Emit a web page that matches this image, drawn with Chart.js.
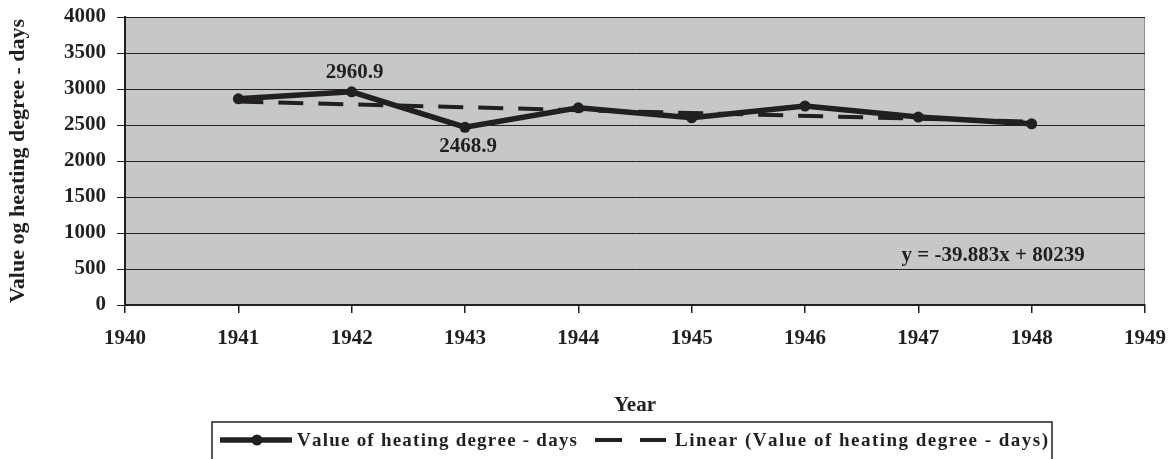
<!DOCTYPE html>
<html><head><meta charset="utf-8">
<script src="https://cdn.jsdelivr.net/npm/chart.js@4"></script>
<style>html,body{margin:0;padding:0;background:#fff;overflow:hidden}#wrap{width:1172px;height:459px;position:relative}</style>
</head><body><div id="wrap"><canvas id="c" width="1172" height="459"></canvas></div>
<script>
// ---- data ----
const years = [1941, 1942, 1943, 1944, 1945, 1946, 1947, 1948];
const heatingDegreeDays = [2864, 2960.9, 2468.9, 2739, 2600, 2763, 2610, 2517];
const trendYears = [1941, 1948];
const trendValues = [2826, 2547];
const labeledIndexes = [1, 2];
const labelSides = ['above', 'below'];
const seriesLabel = 'Value of heating degree - days';
const trendLabel = 'Linear (Value of heating degree - days)';
const equationText = 'y = -39.883x + 80239';
const xTitle = 'Year';
const yTitle = 'Value og heating degree - days';
const xMin = 1940, xMax = 1949, xStep = 1;
const yMin = 0, yMax = 4000, yStep = 500;

// ---- style ----
const INK = '#231f20';
const FAM = "'Liberation Serif', 'Times New Roman', serif";

const plotBg = {
  id: 'plotBg',
  beforeDraw(chart) {
    const {ctx, chartArea: a} = chart;
    ctx.save();
    ctx.fillStyle = '#c6c7c9';
    ctx.fillRect(a.left, a.top, a.right - a.left, a.bottom - a.top);
    ctx.strokeStyle = '#8e8e90';
    ctx.lineWidth = 1;
    ctx.strokeRect(a.left + 0.5, a.top + 0.5, a.right - a.left - 1, a.bottom - a.top);
    ctx.restore();
  }
};

function spacedText(ctx, text, x, y, targetWidth) {
  const chars = [...text];
  let sum = 0; chars.forEach(c => sum += ctx.measureText(c).width);
  const sp = (targetWidth - sum) / (chars.length - 1);
  let cx = x;
  for (const ch of chars) { ctx.fillText(ch, cx, y); cx += ctx.measureText(ch).width + sp; }
}

const annotations = {
  id: 'annotations',
  afterDatasetsDraw(chart) {
    const {ctx, scales: {x, y}} = chart;
    ctx.save();
    ctx.fillStyle = INK;
    ctx.font = 'bold 21px ' + FAM;
    ctx.textAlign = 'center';
    ctx.textBaseline = 'middle';
    labeledIndexes.forEach((i, k) => {
      const px = x.getPixelForValue(years[i]);
      const py = y.getPixelForValue(heatingDegreeDays[i]);
      const dy = labelSides[k] === 'above' ? -19 : 19;
      ctx.fillText(String(heatingDegreeDays[i]), px + 3, py + dy);
    });
    ctx.fillText(equationText, x.getPixelForValue(1947.66), y.getPixelForValue(690));
    ctx.restore();
  },
  afterDraw(chart) {
    const {ctx} = chart;
    ctx.save();
    ctx.strokeStyle = INK;
    ctx.lineWidth = 1.5;
    ctx.strokeRect(212, 422, 840, 60);
    ctx.strokeStyle = INK; ctx.fillStyle = INK;
    ctx.lineWidth = 5.5;
    ctx.beginPath(); ctx.moveTo(220, 440); ctx.lineTo(292, 440); ctx.stroke();
    ctx.beginPath(); ctx.arc(257, 440, 5.5, 0, Math.PI * 2); ctx.fill();
    ctx.lineWidth = 4;
    ctx.beginPath(); ctx.moveTo(595, 440); ctx.lineTo(622, 440); ctx.moveTo(640, 440); ctx.lineTo(666, 440); ctx.stroke();
    ctx.font = 'bold 19px ' + FAM;
    ctx.textAlign = 'left';
    ctx.textBaseline = 'alphabetic';
    spacedText(ctx, seriesLabel, 297, 446, 280);
    spacedText(ctx, trendLabel, 675, 446, 373);
    ctx.restore();
  }
};

const tickFont = {family: FAM, size: 21, weight: 'bold'};

new Chart(document.getElementById('c'), {
  type: 'line',
  data: {
    datasets: [
      {
        label: seriesLabel,
        data: years.map((yr, i) => ({x: yr, y: heatingDegreeDays[i]})),
        borderColor: INK,
        backgroundColor: INK,
        borderWidth: 5.5,
        pointRadius: 5.5,
        pointBackgroundColor: INK,
        pointBorderWidth: 0,
        tension: 0,
        order: 0
      },
      {
        label: trendLabel,
        data: trendYears.map((yr, i) => ({x: yr, y: trendValues[i]})),
        borderColor: INK,
        borderWidth: 4,
        borderDash: [25, 15],
        pointRadius: 0,
        tension: 0,
        order: 1
      }
    ]
  },
  options: {
    responsive: false,
    devicePixelRatio: 1,
    animation: false,
    layout: {padding: {top: 17, right: 27, left: 0, bottom: 0}},
    plugins: {legend: {display: false}, tooltip: {enabled: false}},
    scales: {
      x: {
        type: 'linear',
        min: xMin, max: xMax,
        afterFit(s) { s.height = 154; s.paddingLeft = 0; s.paddingRight = 0; },
        ticks: {stepSize: xStep, color: INK, font: tickFont, padding: 13, maxRotation: 0,
                callback: v => String(v)},
        grid: {drawOnChartArea: false, drawTicks: true, tickLength: 8, color: INK, lineWidth: 1.5},
        border: {display: true, color: INK, width: 2},
        title: {display: true, text: xTitle, color: INK, font: {family: FAM, size: 21, weight: 'bold'},
                padding: {top: 0, bottom: 41}}
      },
      y: {
        min: yMin, max: yMax,
        afterFit(s) { s.width = 125; s.paddingTop = 0; s.paddingBottom = 0; },
        ticks: {stepSize: yStep, color: INK, font: tickFont, padding: 11, callback: v => String(v)},
        grid: {color: INK, lineWidth: 1, tickLength: 8, drawTicks: true},
        border: {display: true, color: INK, width: 2},
        title: {display: true, text: yTitle, color: INK, font: {family: FAM, size: 22, weight: 'bold'},
                padding: {top: 5, bottom: 0}}
      }
    }
  },
  plugins: [plotBg, annotations]
});
</script>
</body></html>
